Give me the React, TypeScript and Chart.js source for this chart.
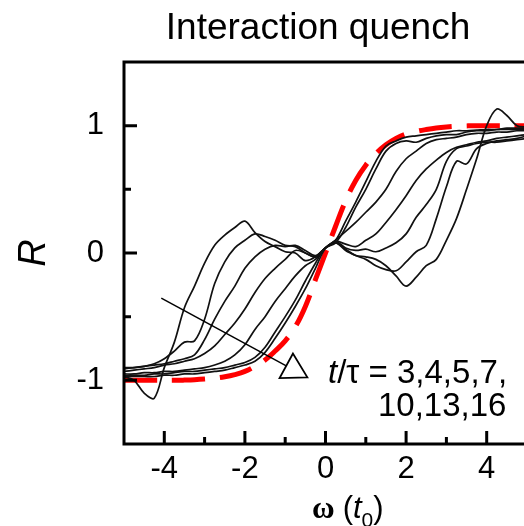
import React, { useEffect, useRef } from "react";
import { Chart, registerables } from "chart.js";

Chart.register(...registerables);

// ---- data ----
const omega = [
  -5, -4.75, -4.5, -4.25, -4, -3.75, -3.5, -3.25, -3, -2.75, -2.5, -2.25, -2, -1.75, -1.5, -1.25, -1, -0.75, -0.5, -0.25,
  0, 0.25, 0.5, 0.75, 1, 1.25, 1.5, 1.75, 2, 2.25, 2.5, 2.75, 3, 3.25, 3.5, 3.75, 4, 4.25, 4.5, 4.75, 5,
];

const R_t3 = [
  -0.97, -1.0, -1.1, -1.14, -0.9, -0.7, -0.43, -0.26, -0.08, 0.06, 0.14, 0.2, 0.25, 0.16, 0.09, 0.05, 0.01, 0.0, -0.06, -0.03,
  0.04, 0.08, 0.03, -0.02, -0.03, -0.05, -0.1, -0.18, -0.26, -0.19, -0.1, -0.05, 0.1, 0.27, 0.5, 0.74, 1.0, 1.13, 1.08, 1.0, 0.99,
];
const R_t4 = [
  -0.9, -0.9, -0.89, -0.87, -0.83, -0.77, -0.7, -0.69, -0.52, -0.24, -0.07, 0.04, 0.1, 0.15, 0.13, 0.1, 0.06, 0.05, 0.0, -0.03,
  0.04, 0.08, 0.02, -0.02, -0.05, -0.1, -0.13, -0.14, -0.07, 0.01, 0.06, 0.27, 0.52, 0.72, 0.7, 0.82, 0.86, 0.88, 0.89, 0.9, 0.92,
];
const R_t5 = [
  -0.91, -0.9, -0.89, -0.88, -0.87, -0.85, -0.83, -0.8, -0.68, -0.52, -0.38, -0.26, -0.12, -0.03, 0.03, 0.06, 0.05, 0.06, 0.02, -0.02,
  0.04, 0.09, 0.04, 0.02, 0.03, 0.01, 0.04, 0.08, 0.15, 0.28, 0.38, 0.5, 0.72, 0.82, 0.84, 0.86, 0.87, 0.87, 0.88, 0.89, 0.9,
];
const R_t7 = [
  -0.93, -0.92, -0.91, -0.9, -0.88, -0.87, -0.85, -0.83, -0.79, -0.73, -0.64, -0.55, -0.44, -0.31, -0.2, -0.12, -0.05, 0.02, 0.0, -0.03,
  0.04, 0.09, 0.07, 0.05, 0.1, 0.15, 0.24, 0.34, 0.45, 0.57, 0.66, 0.73, 0.79, 0.83, 0.85, 0.87, 0.88, 0.9, 0.91, 0.92, 0.93,
];
const R_t10 = [
  -0.95, -0.95, -0.94, -0.94, -0.93, -0.93, -0.92, -0.91, -0.9, -0.88, -0.85, -0.8, -0.72, -0.6, -0.5, -0.38, -0.28, -0.18, -0.1, -0.05,
  0.04, 0.1, 0.17, 0.24, 0.32, 0.4, 0.5, 0.64, 0.74, 0.8, 0.86, 0.89, 0.9, 0.91, 0.93, 0.94, 0.94, 0.95, 0.95, 0.96, 0.96,
];
const R_t13 = [
  -0.96, -0.96, -0.96, -0.95, -0.95, -0.94, -0.93, -0.93, -0.92, -0.91, -0.9, -0.88, -0.86, -0.82, -0.74, -0.62, -0.5, -0.37, -0.22, -0.08,
  0.04, 0.08, 0.2, 0.36, 0.5, 0.66, 0.8, 0.86, 0.88, 0.87, 0.9, 0.92, 0.93, 0.93, 0.95, 0.96, 0.96, 0.97, 0.97, 0.97, 0.97,
];
const R_t16 = [
  -0.97, -0.97, -0.97, -0.97, -0.96, -0.96, -0.95, -0.95, -0.94, -0.93, -0.92, -0.9, -0.88, -0.85, -0.78, -0.67, -0.55, -0.42, -0.28, -0.12,
  0.04, 0.1, 0.25, 0.4, 0.56, 0.72, 0.84, 0.88, 0.91, 0.92, 0.93, 0.94, 0.95, 0.96, 0.96, 0.965, 0.97, 0.97, 0.98, 0.98, 0.98,
];
const R_eq = [
  -1, -1, -1, -1, -1, -1, -0.998, -0.995, -0.99, -0.983, -0.972, -0.955, -0.93, -0.89, -0.84, -0.77, -0.69, -0.58, -0.42, -0.21,
  0, 0.21, 0.41, 0.57, 0.69, 0.78, 0.85, 0.9, 0.935, 0.955, 0.97, 0.982, 0.99, 0.995, 0.998, 1, 1, 1, 1, 1, 1,
];

const xTickLabels = [-4, -2, 0, 2, 4];
const xMinorTicks = [-3, -1, 1, 3];
const yTickLabels = [-1, 0, 1];
const yMinorTicks = [-0.5, 0.5];

const titleText = "Interaction quench";
const annotationLine1 = ["t", "/τ = 3,4,5,7,"];
const annotationLine2 = "10,13,16";
const arrowFrom = { x: -4.075, y: -0.354 };
const arrowTo = { x: -0.45, y: -0.976 };

const FONT = "'Liberation Sans', Arial, Helvetica, sans-serif";

const toPts = (ys: number[]) => omega.map((x, i) => ({ x, y: ys[i] }));

const decorPlugin = {
  id: "decor",
  afterDatasetsDraw(chart: any) {
    const ctx = chart.ctx;
    const xs = chart.scales.x;
    const ys = chart.scales.y;
    const a = chart.chartArea;
    ctx.save();
    // arrow
    const x0 = xs.getPixelForValue(arrowFrom.x);
    const y0 = ys.getPixelForValue(arrowFrom.y);
    const x1 = xs.getPixelForValue(arrowTo.x);
    const y1 = ys.getPixelForValue(arrowTo.y);
    const dx = x1 - x0;
    const dy = y1 - y0;
    const len = Math.hypot(dx, dy);
    const ux = dx / len;
    const uy = dy / len;
    const hl = 24;
    const hw = 14;
    const bx = x1 - ux * hl;
    const by = y1 - uy * hl;
    ctx.strokeStyle = "#000";
    ctx.lineWidth = 1.5;
    ctx.beginPath();
    ctx.moveTo(x0, y0);
    ctx.lineTo(bx, by);
    ctx.stroke();
    ctx.beginPath();
    ctx.moveTo(x1, y1);
    ctx.lineTo(bx - uy * hw, by + ux * hw);
    ctx.lineTo(bx + uy * hw, by - ux * hw);
    ctx.closePath();
    ctx.fillStyle = "#fff";
    ctx.fill();
    ctx.lineWidth = 1.8;
    ctx.stroke();

    // axes frame (left, top, bottom)
    ctx.strokeStyle = "#000";
    ctx.lineWidth = 3;
    ctx.lineCap = "square";
    ctx.beginPath();
    ctx.moveTo(a.right + 2, a.top);
    ctx.lineTo(a.left, a.top);
    ctx.lineTo(a.left, a.bottom);
    ctx.lineTo(a.right + 2, a.bottom);
    ctx.stroke();
    ctx.lineCap = "butt";
    // inward ticks
    ctx.beginPath();
    xTickLabels.forEach((v) => {
      const p = xs.getPixelForValue(v);
      ctx.moveTo(p, a.bottom);
      ctx.lineTo(p, a.bottom - 13);
    });
    xMinorTicks.forEach((v) => {
      const p = xs.getPixelForValue(v);
      ctx.moveTo(p, a.bottom);
      ctx.lineTo(p, a.bottom - 7);
    });
    yTickLabels.forEach((v) => {
      const p = ys.getPixelForValue(v);
      ctx.moveTo(a.left, p);
      ctx.lineTo(a.left + 13, p);
    });
    yMinorTicks.forEach((v) => {
      const p = ys.getPixelForValue(v);
      ctx.moveTo(a.left, p);
      ctx.lineTo(a.left + 7, p);
    });
    ctx.stroke();

    // title
    ctx.fillStyle = "#000";
    ctx.textBaseline = "alphabetic";
    ctx.textAlign = "center";
    ctx.font = `37px ${FONT}`;
    ctx.fillText(titleText, 318, 39);

    // x axis title: ω (t0)
    ctx.textAlign = "left";
    let cx = 312;
    const base = 518;
    ctx.font = `bold 31px 'Liberation Serif', 'DejaVu Serif', serif`;
    ctx.fillText("ω", cx, base);
    cx += ctx.measureText("ω").width + 8;
    ctx.font = `31px ${FONT}`;
    ctx.fillText("(", cx, base);
    cx += ctx.measureText("(").width;
    ctx.font = `italic 31px ${FONT}`;
    ctx.fillText("t", cx, base);
    cx += ctx.measureText("t").width;
    ctx.font = `21px ${FONT}`;
    ctx.fillText("0", cx, base + 9);
    cx += ctx.measureText("0").width;
    ctx.font = `31px ${FONT}`;
    ctx.fillText(")", cx, base);

    // annotation
    let ax = 328;
    ctx.font = `italic 33px ${FONT}`;
    ctx.fillText(annotationLine1[0], ax, 383);
    ax += ctx.measureText(annotationLine1[0]).width;
    ctx.font = `33px ${FONT}`;
    ctx.fillText(annotationLine1[1], ax, 383);
    ctx.fillText(annotationLine2, 378, 416);
    ctx.restore();
  },
};

export default function App() {
  const ref = useRef<HTMLCanvasElement | null>(null);
  useEffect(() => {
    if (!ref.current) return;
    const black = (data: number[], label: string) => ({
      label,
      data: toPts(data),
      borderColor: "#111",
      borderWidth: 1.7,
      pointRadius: 0,
      tension: 0.35,
      fill: false,
    });
    const chart = new Chart(ref.current, {
      type: "line",
      data: {
        datasets: [
          black(R_t3, "t/τ=3"),
          black(R_t4, "t/τ=4"),
          black(R_t5, "t/τ=5"),
          black(R_t7, "t/τ=7"),
          black(R_t10, "t/τ=10"),
          black(R_t13, "t/τ=13"),
          black(R_t16, "t/τ=16"),
          {
            label: "equilibrium",
            data: toPts(R_eq),
            borderColor: "#ff0000",
            borderWidth: 5,
            borderDash: [33, 15],
            pointRadius: 0,
            tension: 0.4,
            fill: false,
          },
        ],
      },
      options: {
        animation: false,
        responsive: false,
        devicePixelRatio: 1,
        layout: { padding: { top: 62, left: 0, right: 0, bottom: 0 } },
        plugins: { legend: { display: false }, tooltip: { enabled: false }, title: { display: false } },
        scales: {
          x: {
            type: "linear",
            min: -5,
            max: 5,
            afterBuildTicks: (s: any) => {
              s.ticks = xTickLabels.map((v) => ({ value: v }));
            },
            afterFit: (s: any) => {
              s.height = 82;
            },
            ticks: {
              autoSkip: false,
              maxRotation: 0,
              padding: 7,
              color: "#000",
              font: { family: FONT, size: 31 },
              callback: (v: any) => String(v),
            },
            grid: { display: false, drawTicks: false },
            border: { display: false },
          },
          y: {
            type: "linear",
            min: -1.5,
            max: 1.5,
            afterBuildTicks: (s: any) => {
              s.ticks = yTickLabels.map((v) => ({ value: v }));
            },
            afterFit: (s: any) => {
              s.width = 124;
            },
            ticks: {
              padding: 20,
              color: "#000",
              font: { family: FONT, size: 31 },
              callback: (v: any) => String(v),
            },
            grid: { display: false, drawTicks: false },
            border: { display: false },
            title: {
              display: true,
              text: "R",
              color: "#000",
              font: { family: FONT, size: 38, style: "italic" },
              padding: { top: 12, bottom: 0 },
            },
          },
        },
      },
      plugins: [decorPlugin],
    });
    return () => chart.destroy();
  }, []);
  return (
    <div
      style={{
        position: "fixed",
        left: 0,
        top: 0,
        width: 524,
        height: 526,
        overflow: "hidden",
        background: "#fff",
      }}
    >
      <canvas ref={ref} width={527} height={526} style={{ display: "block" }} />
    </div>
  );
}
